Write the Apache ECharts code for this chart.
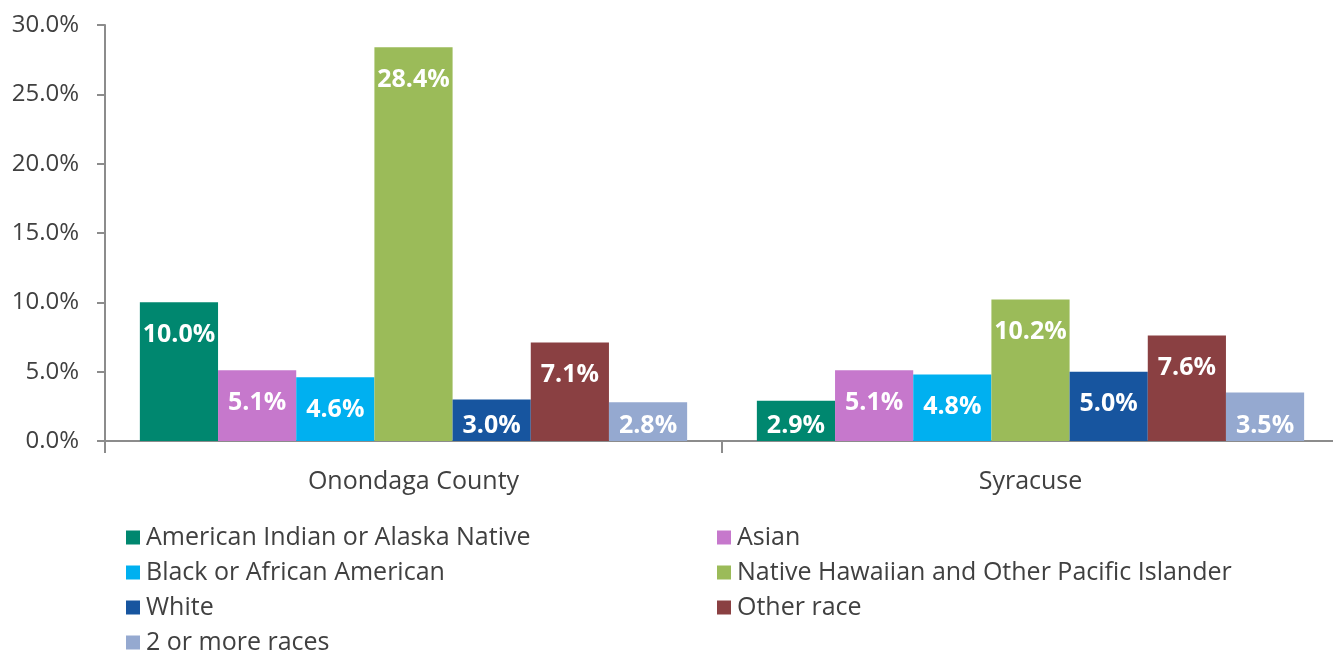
<!DOCTYPE html>
<html>
<head>
<meta charset="utf-8">
<script src="https://cdn.jsdelivr.net/npm/echarts@6/dist/echarts.min.js"></script>
<style>
  html, body { margin: 0; padding: 0; background: #fff; }
  #chart { width: 1333px; height: 652px; }
</style>
</head>
<body>
<div id="chart"></div>
<script>
// categories on the x axis
const places = ['Onondaga County', 'Syracuse']
// one entry per race group, in drawing order
const groups = [
  'American Indian or Alaska Native',
  'Asian',
  'Black or African American',
  'Native Hawaiian and Other Pacific Islander',
  'White',
  'Other race',
  '2 or more races'
]
const groupColors = ['#00876F', '#C678CC', '#00B0F0', '#9BBB59', '#17559F', '#8A4042', '#95A9D0']
// percentages, [Onondaga, Syracuse]
const aianValues = [10.0, 2.9]
const asianValues = [5.1, 5.1]
const blackValues = [4.6, 4.8]
const nhpiValues = [28.4, 10.2]
const whiteValues = [3.0, 5.0]
const otherValues = [7.1, 7.6]
const multiValues = [2.8, 3.5]
const yTicks = [0, 5, 10, 15, 20, 25, 30]

const allValues = [aianValues, asianValues, blackValues, nhpiValues, whiteValues, otherValues, multiValues]
const textColor = '#404040'
const font = '"Open Sans", "Noto Sans", sans-serif'

const chart = echarts.init(document.getElementById('chart'))

// short bars get their label pushed to the bottom so it stays inside
function barData(values) {
  return values.map((v) => {
    if (v < 4) {
      return { value: v, label: { position: 'insideBottom', distance: 3 } }
    }
    return v
  })
}

const series = groups.map((name, i) => ({
  name: name,
  type: 'bar',
  data: barData(allValues[i]),
  barGap: '0%',
  barCategoryGap: '11.3%',
  itemStyle: { color: groupColors[i] },
  label: {
    show: true,
    position: 'insideTop',
    distance: 20,
    color: '#fff',
    fontSize: 25,
    fontWeight: 'bold',
    fontFamily: font,
    formatter: (p) => p.value.toFixed(1) + '%'
  }
}))

const legendText = { color: textColor, fontSize: 25, fontFamily: font, padding: [0, 0, 0, 1] }

chart.setOption({
  animation: false,
  grid: { left: 105, width: 1234, top: 25, bottom: 211, outerBoundsMode: 'none' },
  xAxis: {
    type: 'category',
    data: places,
    axisLine: { lineStyle: { color: '#8C8C8C', width: 2 } },
    axisTick: { show: true, length: 12, lineStyle: { color: '#8C8C8C', width: 2 } },
    axisLabel: { color: textColor, fontSize: 25, fontFamily: font, margin: 28 }
  },
  yAxis: {
    type: 'value',
    min: yTicks[0],
    max: yTicks[yTicks.length - 1],
    interval: 5,
    splitLine: { show: false },
    axisLine: { show: true, lineStyle: { color: '#8C8C8C', width: 2 } },
    axisTick: { show: true, length: 8, lineStyle: { color: '#8C8C8C', width: 2 } },
    axisLabel: {
      color: textColor,
      fontSize: 24,
      fontFamily: font,
      margin: 26,
      formatter: (v) => v.toFixed(1) + '%'
    }
  },
  legend: [
    {
      orient: 'vertical',
      left: 121,
      top: 520,
      height: 140,
      itemGap: 10,
      itemWidth: 14,
      itemHeight: 14,
      icon: 'rect',
      textStyle: legendText,
      data: [groups[0], groups[2], groups[4], groups[6]]
    },
    {
      orient: 'vertical',
      left: 712,
      top: 520,
      height: 140,
      itemGap: 10,
      itemWidth: 14,
      itemHeight: 14,
      icon: 'rect',
      textStyle: legendText,
      data: [groups[1], groups[3], groups[5]]
    }
  ],
  series: series
})
</script>
</body>
</html>
